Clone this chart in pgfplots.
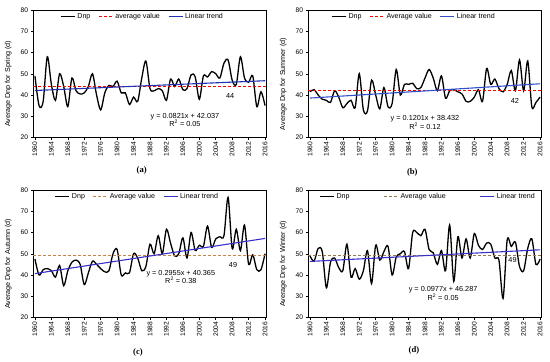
\documentclass[border=0pt]{standalone}
\usepackage{pgfplots}
\pgfplotsset{compat=1.18}
\usepackage{pgfplotstable}
\usepackage{fontspec}
\setmainfont{Liberation Sans}
\newfontfamily\capfont{Liberation Serif}
\definecolor{trendA}{RGB}{32,48,176}
\definecolor{trendB}{RGB}{48,80,200}
\definecolor{trendC}{RGB}{56,48,204}
\definecolor{avgC}{RGB}{196,132,70}
\definecolor{avgD}{RGB}{150,118,80}

\pgfplotstableread{
year val
1960 49
1961 35
1962 37
1963 58
1964 45
1965 37.5
1966 50
1967 44
1968 34.5
1969 48
1970 42
1971 40.5
1972 41
1973 44
1974 50
1975 40
1976 33
1977 41
1978 44.5
1979 44
1980 46.5
1981 41
1982 41
1983 35.5
1984 39
1985 37
1986 48
1987 56
1988 43
1989 42
1990 43
1991 42
1992 37.5
1993 47.5
1994 44
1995 47.5
1996 42.5
1997 43
1998 49.5
1999 48.5
2000 38
2001 49
2002 48.5
2003 51
2004 50
2005 48
2006 55
2007 56.5
2008 47
2009 45
2010 58
2011 48
2012 46
2013 49
2014 34.5
2015 41.5
2016 35
}\spring

\pgfplotstableread{
year val
1960 41.5
1961 42.5
1962 40
1963 38
1964 37.5
1965 36.5
1966 42
1967 39
1968 34
1969 36
1970 37.5
1971 34
1972 50
1973 33
1974 32.5
1975 47
1976 40
1977 33.5
1978 43.5
1979 34.5
1980 36
1981 52
1982 40
1983 45
1984 45
1985 45.5
1986 43
1987 43.5
1988 48
1989 52
1990 48
1991 42
1992 49
1993 38.5
1994 42
1995 42.5
1996 41.5
1997 40.5
1998 37
1999 37
2000 39
2001 42.5
2002 37
2003 52.5
2004 45
2005 47.5
2006 43
2007 41.5
2008 45
2009 51.5
2010 42
2011 56.5
2012 42
2013 56
2014 34.5
2015 36.5
2016 39
}\summer

\pgfplotstableread{
year val
1960 47.5
1961 40
1962 42.5
1963 43
1964 42
1965 39
1966 44.5
1967 35
1968 42
1969 46
1970 47
1971 45
1972 35.5
1973 41
1974 46.5
1975 45
1976 43
1977 41.5
1978 42
1979 50
1980 52
1981 40
1982 41
1983 41
1984 50
1985 48
1986 42
1987 44
1988 54.5
1989 50
1990 58.5
1991 50
1992 61.5
1993 55
1994 49
1995 50
1996 57.5
1997 48
1998 60
1999 51.5
2000 54
2001 53.5
2002 63
2003 53
2004 57
2005 58
2006 58.5
2007 76.5
2008 52.5
2009 61.5
2010 51.5
2011 63.5
2012 45
2013 49.5
2014 42.5
2015 42.5
2016 50
}\autumn

\pgfplotstableread{
year val
1960 49
1961 46.5
1962 52.5
1963 51
1964 34
1965 46
1966 48
1967 43.5
1968 42
1969 54.5
1970 39
1971 43
1972 38
1973 42
1974 51.5
1975 36
1976 54
1977 47
1978 51
1979 53.5
1980 40
1981 48.5
1982 50
1983 51
1984 43
1985 60
1986 60
1987 58.5
1988 61.5
1989 52
1990 50.5
1991 45
1992 51.5
1993 42
1994 63.5
1995 37
1996 58
1997 48
1998 57
1999 48
2000 59.5
2001 54
2002 52
2003 55
2004 54.5
2005 48
2006 47
2007 29
2008 56.5
2009 53.5
2010 55.5
2011 44
2012 42
2013 52.5
2014 57
2015 45
2016 47.5
}\winter

\tikzset{
  eqn/.style={font=\fontsize{7.3}{8.6}\selectfont, align=center},
  capt/.style={font=\capfont\bfseries\fontsize{8.6}{9}\selectfont},
}
\pgfplotsset{
  panel/.style={
    scale only axis, width=233.4pt, height=127.5pt,
    xmin=1959.6, xmax=2016.4, ymin=20, ymax=80,
    xtick={1960,1964,...,2016}, ytick={20,30,...,80},
    xtick pos=left, ytick pos=left, tick align=outside,
    major tick length=2.5pt,
    axis line style={line width=0.5pt},
    tick style={line width=0.5pt, black},
    /pgf/number format/1000 sep={},
    /pgf/number format/assume math mode=true,
    x tick label style={rotate=90, anchor=east, font=\fontsize{6.7}{7}\selectfont, inner sep=1.5pt},
    y tick label style={font=\fontsize{6.7}{7}\selectfont, inner sep=2.5pt},
    every axis y label/.style={at={(axis description cs:-0.107,0.42)}, rotate=90, anchor=center, font=\fontsize{7.2}{8}\selectfont},
    legend columns=3,
    legend style={draw=none, fill=none, anchor=north, font=\fontsize{7.1}{8}\selectfont,
      inner sep=0pt, /tikz/every even column/.append style={column sep=6pt}},
    legend cell align=left,
    legend image code/.code={\draw[##1] (0pt,0pt) -- (14pt,0pt);},
    clip=false,
  },
  dnp/.style={black, line width=1.3pt, smooth, tension=0.5, mark=none},
}

\begin{document}
\begin{tikzpicture}
\useasboundingbox (0,0) rectangle (550pt,362pt);

% (a) Spring
\begin{axis}[panel, at={(33.3pt,224.5pt)}, anchor=south west,
  ylabel={Average Dnp for Spring (d)},
  legend style={at={(0.468,0.99)}}]
\addplot[dnp] table[x=year,y=val]{\spring};
\addlegendentry{Dnp}
\addplot[red, line width=0.9pt, dash pattern=on 3pt off 2pt] coordinates {(1959.6,44) (2016.4,44)};
\addlegendentry{average value}
\addplot[trendA, line width=1.1pt] coordinates {(1960,42.118) (2016,46.717)};
\addlegendentry{Linear trend}
\node[eqn] at (axis cs:1996.5,28.2) {y = 0.0821x + 42.037\\R\textsuperscript{2} = 0.05};
\node[eqn] at (axis cs:2007.5,39.6) {44};
\end{axis}

% (b) Summer
\begin{axis}[panel, at={(308.3pt,224.5pt)}, anchor=south west,
  ylabel={Average Dnp for Summer (d)},
  legend style={at={(0.453,0.99)}}]
\addplot[dnp] table[x=year,y=val]{\summer};
\addlegendentry{Dnp}
\addplot[red, line width=0.9pt, dash pattern=on 3pt off 2pt] coordinates {(1959.6,42) (2016.4,42)};
\addlegendentry{Average value}
\addplot[trendB, line width=1.1pt] coordinates {(1960,38.552) (2016,45.278)};
\addlegendentry{Linear trend}
\node[eqn] at (axis cs:1988,27) {y = 0.1201x + 38.432\\R\textsuperscript{2} = 0.12};
\node[eqn] at (axis cs:2009.9,37.4) {42};
\end{axis}

% (c) Autumn
\begin{axis}[panel, at={(33.3pt,44.5pt)}, anchor=south west,
  ylabel={Average Dnp for Autumn (d)},
  legend style={at={(0.446,0.99)}}]
\addplot[dnp] table[x=year,y=val]{\autumn};
\addlegendentry{Dnp}
\addplot[avgC, line width=0.9pt, dash pattern=on 3pt off 2pt] coordinates {(1959.6,49) (2016.4,49)};
\addlegendentry{Average value}
\addplot[trendC, line width=1.1pt] coordinates {(1960,40.661) (2016,57.209)};
\addlegendentry{Linear trend}
\node[eqn] at (axis cs:1995.5,39) {y = 0.2955x + 40.365\\R\textsuperscript{2} = 0.38};
\node[eqn] at (axis cs:2008.2,44.6) {49};
\end{axis}

% (d) Winter
\begin{axis}[panel, at={(308.3pt,44.5pt)}, anchor=south west,
  ylabel={Average Dnp for Winter (d)},
  legend style={at={(0.513,0.99)}, /tikz/every even column/.append style={column sep=32pt}}]
\addplot[dnp] table[x=year,y=val]{\winter};
\addlegendentry{Dnp}
\addplot[avgD, line width=0.9pt, dash pattern=on 3pt off 2pt] coordinates {(1959.6,49) (2016.4,49)};
\addlegendentry{Average value}
\addplot[trendC, line width=1.1pt] coordinates {(1960,46.385) (2016,51.856)};
\addlegendentry{Linear trend}
\node[eqn] at (axis cs:1992.4,31.2) {y = 0.0977x + 46.287\\R\textsuperscript{2} = 0.05};
\node[eqn] at (axis cs:2009.3,47) {49};
\end{axis}

\node[capt] at (141.7pt,192pt) {(a)};
\node[capt] at (412.3pt,190pt) {(b)};
\node[capt] at (138pt,10pt) {(c)};
\node[capt] at (414pt,12pt) {(d)};
\end{tikzpicture}
\end{document}
